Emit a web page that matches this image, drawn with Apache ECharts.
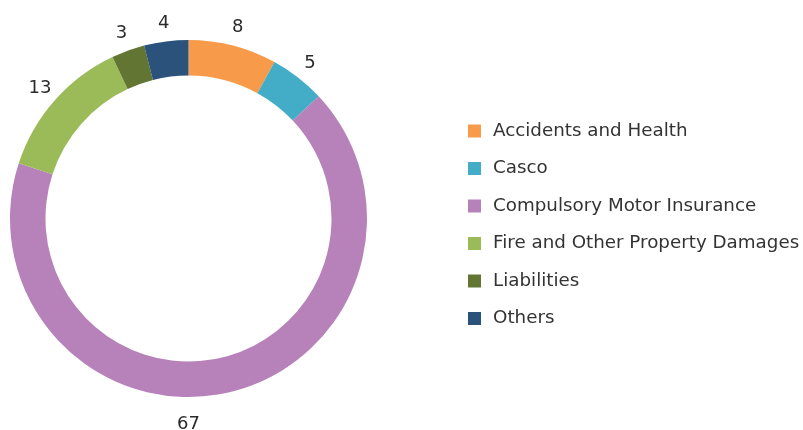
<!DOCTYPE html>
<html><head><meta charset="utf-8">
<script src="https://cdn.jsdelivr.net/npm/echarts@6/dist/echarts.min.js"></script>
<style>html,body{margin:0;padding:0;background:#fff}#c{width:803px;height:430px}</style>
</head><body><div id="c"></div>
<script>
const categories = ["Accidents and Health","Casco","Compulsory Motor Insurance","Fire and Other Property Damages","Liabilities","Others"];
const values = [8,5,67,13,3,4];
const colors = ["#F79A4A","#43ADC8","#B781BA","#9BBB59","#627532","#2A527A"];

const CX = 188.5, CY = 218.5, R_OUT = 178.5, R_IN = 143;
// mid angles (degrees clockwise from top) computed from the values
const total = values.reduce((a,b)=>a+b,0);
let acc = 0;
const midAngles = values.map(v => { const m = (acc + v/2)/total*360; acc += v; return m; });
const labelRadii = values.map(() => 198);
// the large slice's label sits at the bottom of the ring, as in the source chart
midAngles[2] = 180; labelRadii[2] = 205;

const chart = echarts.init(document.getElementById('c'), null, {renderer:'canvas'});
chart.setOption({
  animation:false,
  color: colors,
  textStyle:{fontFamily:'DejaVu Sans'},
  legend:{
    orient:'vertical', left:463, top:117,
    icon:'rect', itemWidth:13, itemHeight:13, itemGap:19.5,
    textStyle:{fontSize:18.3, lineHeight:18, color:'#333', fontFamily:'DejaVu Sans', padding:[0,0,0,7]},
    data: categories
  },
  series:[{
    type:'pie',
    center:[CX,CY],
    radius:[R_IN,R_OUT],
    startAngle:90,
    clockwise:true,
    avoidLabelOverlap:false,
    label:{show:true, position:'outside', formatter:'{c}', fontSize:18, color:'#2a2a2a', fontFamily:'DejaVu Sans'},
    labelLine:{show:false},
    labelLayout: function(p){
      const i = p.dataIndex;
      const a = midAngles[i]*Math.PI/180;
      return {x: CX + Math.sin(a)*labelRadii[i], y: CY - Math.cos(a)*labelRadii[i] + 1, align:'center', verticalAlign:'middle'};
    },
    itemStyle:{borderWidth:0},
    data: categories.map((n,i)=>({name:n, value:values[i]}))
  }]
});
</script></body></html>
